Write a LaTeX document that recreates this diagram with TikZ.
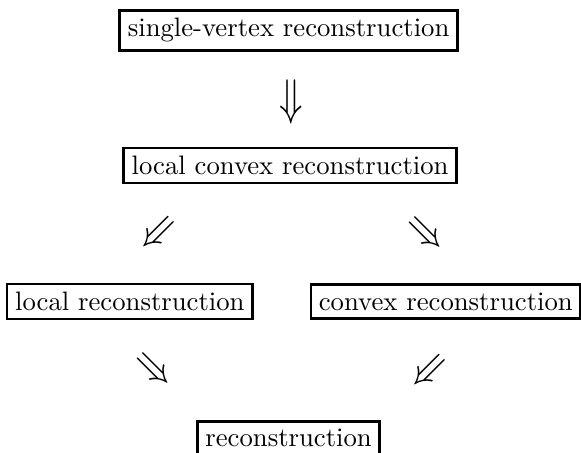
\documentclass[tikz,border=0pt]{standalone}
\usepackage{amssymb}

\tikzset{
  box/.style={draw, line width=1pt, inner sep=3pt},
  arr/.style={inner sep=0pt, font=\Large, yscale=1.3},
  diag/.style={inner sep=0pt, font=\Large, yscale=1.15},
}

\begin{document}
\begin{tikzpicture}
      \useasboundingbox (0,0) rectangle (7.65,-5.96);
      \draw
        (3.80,-0.40) node[box] (sv){single-vertex reconstruction}
        (3.83,-1.34) node[arr] (a0){$\Downarrow$}
        (3.82,-2.18) node[box] (lc){local convex reconstruction}
        (2.07,-3.07) node[rotate=-45, diag] (a1){$\Downarrow$}
        (5.61,-3.07) node[rotate=45, diag] (a2){$\Downarrow$}
        (1.71,-3.97) node[box] (lo){local reconstruction}
        (5.87,-3.97) node[box] (cv){convex reconstruction}
        (2.03,-4.87) node[rotate=45, diag] (a3){$\Downarrow$}
        (5.65,-4.88) node[rotate=-45, diag] (a4){$\Downarrow$}
        (3.80,-5.53) node[box, anchor=north] (re){reconstruction};
    \end{tikzpicture}
\end{document}
